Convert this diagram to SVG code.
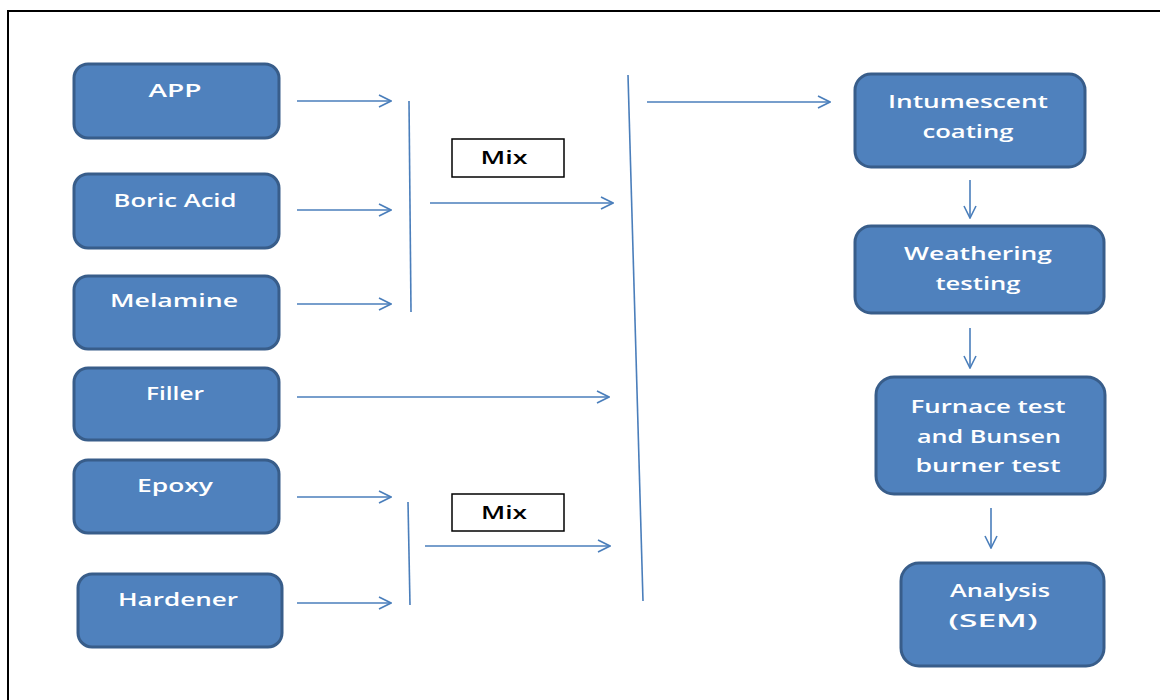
<svg xmlns="http://www.w3.org/2000/svg" width="1160" height="700" viewBox="0 0 1160 700">
<defs>
<marker id="ah" viewBox="0 0 14 14" refX="13" refY="7" markerWidth="14" markerHeight="14" markerUnits="userSpaceOnUse" orient="auto">
<path d="M1,1 L13,7 L1,13" fill="none" stroke="#4A7EBB" stroke-width="1.6"/>
</marker>
<style>
.box{fill:#4F81BD;stroke:#385D8A;stroke-width:3}
.lbl{font-family:"Open Sans","Liberation Sans",sans-serif;font-size:18px;font-weight:600;fill:#ffffff;text-anchor:middle}
.mix{fill:#ffffff;stroke:#000000;stroke-width:1.5}
.mixt{font-family:"Open Sans","Liberation Sans",sans-serif;font-size:18px;font-weight:600;fill:#000000;text-anchor:middle}
.ln{stroke:#4A7EBB;stroke-width:1.6;fill:none}
.ar{stroke:#4A7EBB;stroke-width:1.6;fill:none;marker-end:url(#ah)}
</style>
</defs>
<rect width="1160" height="700" fill="#ffffff"/>
<path d="M8,700 L8,11 L1160,11" fill="none" stroke="#000000" stroke-width="2"/>

<g id="app"><rect class="box" x="74" y="64" width="205" height="74" rx="14"/><text class="lbl" x="175" y="97" textLength="53" lengthAdjust="spacingAndGlyphs">APP</text></g>
<g id="boric"><rect class="box" x="74" y="174" width="205" height="74" rx="14"/><text class="lbl" x="175" y="207" textLength="123" lengthAdjust="spacingAndGlyphs">Boric Acid</text></g>
<g id="melamine"><rect class="box" x="74" y="276" width="205" height="73" rx="14"/><text class="lbl" x="174" y="307" textLength="128" lengthAdjust="spacingAndGlyphs">Melamine</text></g>
<g id="filler"><rect class="box" x="74" y="368" width="205" height="72" rx="14"/><text class="lbl" x="175" y="400" textLength="58" lengthAdjust="spacingAndGlyphs">Filler</text></g>
<g id="epoxy"><rect class="box" x="74" y="460" width="205" height="73" rx="14"/><text class="lbl" x="175" y="492" textLength="76" lengthAdjust="spacingAndGlyphs">Epoxy</text></g>
<g id="hardener"><rect class="box" x="78" y="574" width="204" height="73" rx="14"/><text class="lbl" x="178" y="606" textLength="120" lengthAdjust="spacingAndGlyphs">Hardener</text></g>

<g id="mix1"><rect class="mix" x="452" y="139" width="112" height="38"/><text class="mixt" x="504" y="164" textLength="47" lengthAdjust="spacingAndGlyphs">Mix</text></g>
<g id="mix2"><rect class="mix" x="452" y="494" width="112" height="37"/><text class="mixt" x="504" y="519" textLength="46" lengthAdjust="spacingAndGlyphs">Mix</text></g>

<g id="intumescent"><rect class="box" x="855" y="74" width="230" height="93" rx="16"/><text class="lbl" x="968" y="108" textLength="160" lengthAdjust="spacingAndGlyphs">Intumescent</text><text class="lbl" x="968" y="138" textLength="91" lengthAdjust="spacingAndGlyphs">coating</text></g>
<g id="weathering"><rect class="box" x="855" y="226" width="249" height="87" rx="16"/><text class="lbl" x="978" y="260" textLength="148" lengthAdjust="spacingAndGlyphs">Weathering</text><text class="lbl" x="978" y="290" textLength="85" lengthAdjust="spacingAndGlyphs">testing</text></g>
<g id="furnace"><rect class="box" x="876" y="377" width="229" height="117" rx="18"/><text class="lbl" x="988" y="413" textLength="155" lengthAdjust="spacingAndGlyphs">Furnace test</text><text class="lbl" x="989" y="443" textLength="144" lengthAdjust="spacingAndGlyphs">and Bunsen</text><text class="lbl" x="988" y="472" textLength="145" lengthAdjust="spacingAndGlyphs">burner test</text></g>
<g id="analysis"><rect class="box" x="901" y="563" width="203" height="103" rx="18"/><text class="lbl" x="1000" y="597" textLength="100" lengthAdjust="spacingAndGlyphs">Analysis</text><text class="lbl" x="993" y="627" textLength="89" lengthAdjust="spacingAndGlyphs">(SEM)</text></g>

<g id="connectors">
<line class="ar" x1="297" y1="101" x2="391" y2="101"/>
<line class="ar" x1="297" y1="210" x2="391" y2="210"/>
<line class="ar" x1="297" y1="304" x2="391" y2="304"/>
<line class="ln" x1="409" y1="101" x2="411" y2="312"/>
<line class="ar" x1="430" y1="203" x2="613" y2="203"/>
<line class="ar" x1="297" y1="397" x2="609" y2="397"/>
<line class="ar" x1="297" y1="497" x2="391" y2="497"/>
<line class="ar" x1="297" y1="603" x2="391" y2="603"/>
<line class="ln" x1="408" y1="502" x2="410" y2="605"/>
<line class="ar" x1="425" y1="546" x2="610" y2="546"/>
<line class="ln" x1="628" y1="75" x2="643" y2="601"/>
<line class="ar" x1="647" y1="102" x2="830" y2="102"/>
<line class="ar" x1="970" y1="180" x2="970" y2="218"/>
<line class="ar" x1="970" y1="328" x2="970" y2="368"/>
<line class="ar" x1="991" y1="508" x2="991" y2="548"/>
</g>
</svg>
